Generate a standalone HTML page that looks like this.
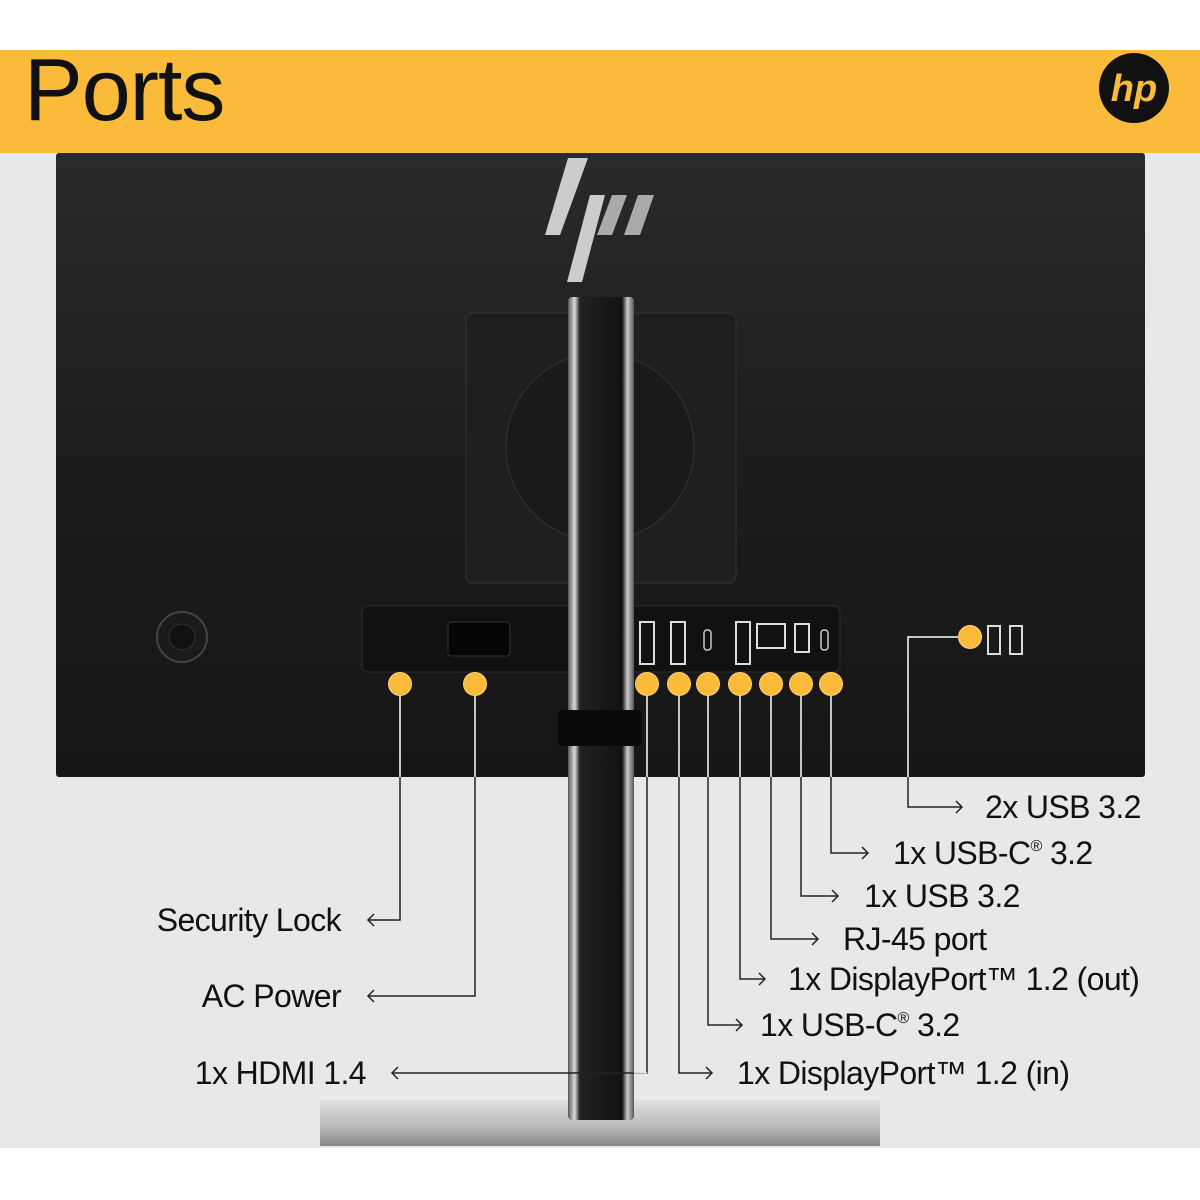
<!DOCTYPE html>
<html><head><meta charset="utf-8"><style>
html,body{margin:0;padding:0;width:1200px;height:1200px;overflow:hidden;background:#fff}
svg{display:block}
text{font-family:"Liberation Sans",sans-serif}
</style></head><body>
<svg width="1200" height="1200" viewBox="0 0 1200 1200" xmlns="http://www.w3.org/2000/svg">
<defs>
<linearGradient id="mon" x1="0" y1="0" x2="0" y2="1">
<stop offset="0" stop-color="#2a2a2a"/><stop offset="0.5" stop-color="#1d1d1d"/><stop offset="1" stop-color="#161616"/>
</linearGradient>
<linearGradient id="pole" x1="0" y1="0" x2="1" y2="0">
<stop offset="0" stop-color="#555"/><stop offset="0.1" stop-color="#ddd"/><stop offset="0.18" stop-color="#222"/><stop offset="0.82" stop-color="#111"/><stop offset="0.9" stop-color="#ccc"/><stop offset="1" stop-color="#555"/>
</linearGradient>
<linearGradient id="base" x1="0" y1="0" x2="0" y2="1">
<stop offset="0" stop-color="#e0e0e0"/><stop offset="0.6" stop-color="#b8b8b8"/><stop offset="1" stop-color="#888"/>
</linearGradient>
</defs>
<rect x="0" y="0" width="1200" height="1200" fill="#fff"/>
<rect x="0" y="153" width="1200" height="995" fill="#e8e8e8"/>
<rect x="0" y="50" width="1200" height="103" fill="#fbbb3a"/>
<text x="24" y="120" font-size="88" fill="#111" letter-spacing="-1">Ports</text>
<circle cx="1134" cy="88" r="35" fill="#111"/>
<text x="1134" y="101" font-size="38" fill="#fbbb3a" font-style="italic" font-weight="bold" text-anchor="middle">hp</text>
<!-- monitor -->
<rect x="56" y="153" width="1089" height="624" fill="url(#mon)" rx="3"/>
<rect x="466" y="313" width="270" height="270" rx="6" fill="#1f1f1f" stroke="#333"/>
<circle cx="600" cy="447" r="94" fill="#1a1a1a" stroke="#333"/>
<polygon points="568,158 588,158 560,235 545,235" fill="#ccc"/>
<polygon points="590,195 605,195 582,282 567,282" fill="#ccc"/>
<polygon points="612,195 627,195 612,235 597,235" fill="#aaa"/>
<polygon points="638,195 654,195 640,235 624,235" fill="#aaa"/>
<circle cx="182" cy="637" r="25" fill="#1a1a1a" stroke="#444" stroke-width="2"/>
<circle cx="182" cy="637" r="13" fill="#111" stroke="#333"/>
<rect x="362" y="606" width="478" height="66" rx="6" fill="#111" stroke="#2e2e2e"/>
<rect x="448" y="622" width="62" height="34" rx="4" fill="#050505" stroke="#333"/>
<rect x="640" y="622" width="14" height="42" fill="none" stroke="#ddd" stroke-width="2"/>
<rect x="671" y="622" width="14" height="42" fill="none" stroke="#ddd" stroke-width="2"/>
<rect x="704" y="630" width="7" height="20" rx="3" fill="none" stroke="#ccc" stroke-width="1.5"/>
<rect x="736" y="622" width="14" height="42" fill="none" stroke="#ddd" stroke-width="2"/>
<rect x="757" y="624" width="28" height="24" fill="none" stroke="#ddd" stroke-width="2"/>
<rect x="795" y="624" width="14" height="28" fill="none" stroke="#ddd" stroke-width="2"/>
<rect x="821" y="630" width="7" height="20" rx="3" fill="none" stroke="#ccc" stroke-width="1.5"/>
<rect x="988" y="626" width="12" height="28" fill="none" stroke="#ddd" stroke-width="2"/>
<rect x="1010" y="626" width="12" height="28" fill="none" stroke="#ddd" stroke-width="2"/>
<!-- stand -->
<rect x="320" y="1100" width="560" height="46" fill="url(#base)"/>
<rect x="568" y="297" width="66" height="823" rx="4" fill="url(#pole)"/>
<rect x="558" y="710" width="84" height="36" rx="4" fill="#0a0a0a"/>
<!-- connectors -->
<g fill="none" stroke-width="1.5">
<g stroke="#fff">
<path d="M400 684V777M475 684V777M647 684V777M679 684V777M708 684V777M740 684V777M771 684V777M801 684V777M831 684V777M958 637H908V777"/>
</g>
<g stroke="#222">
<path d="M400 777V920H368M475 777V996H368M647 777V1073H392M679 777V1073H712M708 777V1025H742M740 777V979H765M771 777V939H818M801 777V896H838M831 777V853H868M908 777V807H962"/>
<path d="M374 914L368 920L374 926M374 990L368 996L374 1002M398 1067L392 1073L398 1079M706 1067L712 1073L706 1079M736 1019L742 1025L736 1031M759 973L765 979L759 985M812 933L818 939L812 945M832 890L838 896L832 902M862 847L868 853L862 859M956 801L962 807L956 813"/>
</g>
</g>
<g fill="#ddd"><rect x="634" y="1072" width="13" height="1.5"/></g>
<g fill="#ffd27a">
<circle cx="400" cy="684" r="12"/><circle cx="475" cy="684" r="12"/>
<circle cx="647" cy="684" r="12"/><circle cx="679" cy="684" r="12"/>
<circle cx="708" cy="684" r="12"/><circle cx="740" cy="684" r="12"/>
<circle cx="771" cy="684" r="12"/><circle cx="801" cy="684" r="12"/>
<circle cx="831" cy="684" r="12"/><circle cx="970" cy="637" r="12"/>
</g>
<g fill="#fbbb3a">
<circle cx="400" cy="684" r="11"/><circle cx="475" cy="684" r="11"/>
<circle cx="647" cy="684" r="11"/><circle cx="679" cy="684" r="11"/>
<circle cx="708" cy="684" r="11"/><circle cx="740" cy="684" r="11"/>
<circle cx="771" cy="684" r="11"/><circle cx="801" cy="684" r="11"/>
<circle cx="831" cy="684" r="11"/><circle cx="970" cy="637" r="11"/>
</g>
<g font-size="32" fill="#111" letter-spacing="-0.6">
<text x="341" y="931" text-anchor="end">Security Lock</text>
<text x="341" y="1007" text-anchor="end">AC Power</text>
<text x="366" y="1084" text-anchor="end">1x HDMI 1.4</text>
<text x="737" y="1084">1x DisplayPort™ 1.2 (in)</text>
<text x="760" y="1036">1x USB-C<tspan font-size="16" dy="-13">®</tspan><tspan dy="13"> 3.2</tspan></text>
<text x="788" y="990">1x DisplayPort™ 1.2 (out)</text>
<text x="843" y="950">RJ-45 port</text>
<text x="864" y="907">1x USB 3.2</text>
<text x="893" y="864">1x USB-C<tspan font-size="16" dy="-13">®</tspan><tspan dy="13"> 3.2</tspan></text>
<text x="985" y="818">2x USB 3.2</text>
</g>
</svg>
</body></html>
